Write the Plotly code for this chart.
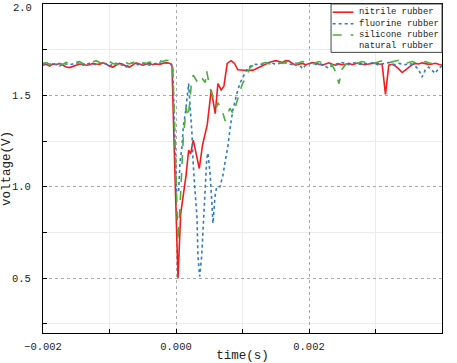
import plotly.graph_objects as go

# shared time grids (s)
t_pre = [-0.00200, -0.00195, -0.00190, -0.00185, -0.00180, -0.00175, -0.00170, -0.00165,
         -0.00160, -0.00155, -0.00150, -0.00145, -0.00140, -0.00135, -0.00130, -0.00125,
         -0.00120, -0.00115, -0.00110, -0.00105, -0.00100, -0.00095, -0.00090, -0.00085,
         -0.00080, -0.00075, -0.00070, -0.00065, -0.00060, -0.00055, -0.00050, -0.00045,
         -0.00040, -0.00035, -0.00030, -0.00025, -0.00020, -0.00015]
t_post = [0.00125, 0.00130, 0.00135, 0.00140, 0.00145, 0.00150, 0.00155, 0.00160,
          0.00165, 0.00170, 0.00175, 0.00180, 0.00185, 0.00190, 0.00195, 0.00200,
          0.00205, 0.00210, 0.00215, 0.00220, 0.00225, 0.00230, 0.00235, 0.00240,
          0.00245, 0.00250, 0.00255, 0.00260, 0.00265, 0.00270, 0.00275, 0.00280,
          0.00285, 0.00290, 0.00295, 0.00300, 0.00305, 0.00310, 0.00315, 0.00320,
          0.00325, 0.00330, 0.00335, 0.00340, 0.00345, 0.00350, 0.00355, 0.00360,
          0.00365, 0.00370, 0.00375, 0.00380, 0.00385, 0.00390, 0.00395, 0.00400]

# nitrile rubber
nitrile_pre = [1.665, 1.670, 1.660, 1.672, 1.668, 1.675, 1.665, 1.655, 1.652, 1.660,
               1.668, 1.672, 1.670, 1.665, 1.668, 1.675, 1.672, 1.670, 1.678, 1.672,
               1.660, 1.655, 1.665, 1.675, 1.670, 1.660, 1.655, 1.668, 1.678, 1.672,
               1.665, 1.670, 1.675, 1.668, 1.672, 1.670, 1.675, 1.680]
nitrile_t_dip = [-0.00009, -0.00006, -0.00003, 0.00003, 0.00007, 0.00011, 0.00015, 0.00019,
                 0.00022, 0.00026, 0.00030, 0.00035, 0.00040, 0.00047, 0.00053, 0.00059,
                 0.00063, 0.00068, 0.00072, 0.00077, 0.00083, 0.00088, 0.00093, 0.00100,
                 0.00108, 0.00116, 0.00120]
nitrile_dip = [1.675, 1.660, 1.250, 0.500, 0.850, 0.950, 1.060, 1.200,
               1.180, 1.255, 1.190, 1.100, 1.230, 1.340, 1.530, 1.400,
               1.565, 1.530, 1.550, 1.675, 1.690, 1.675, 1.640, 1.638,
               1.636, 1.638, 1.645]
nitrile_post = [1.655, 1.665, 1.675, 1.680, 1.685, 1.690, 1.685, 1.680, 1.690, 1.688,
                1.675, 1.665, 1.670, 1.675, 1.668, 1.672, 1.680, 1.676, 1.670, 1.665,
                1.672, 1.678, 1.670, 1.665, 1.672, 1.668, 1.670, 1.675, 1.668, 1.672,
                1.678, 1.670, 1.668, 1.672, 1.675, 1.678, 1.672, 1.670, 1.505, 1.665,
                1.670, 1.660, 1.645, 1.625, 1.638, 1.655, 1.668, 1.675, 1.672, 1.678,
                1.675, 1.670, 1.672, 1.676, 1.670, 1.665]

# fluorine rubber
fluorine_pre = [1.668, 1.675, 1.665, 1.672, 1.670, 1.660, 1.675, 1.670, 1.668, 1.672,
                1.676, 1.680, 1.665, 1.670, 1.675, 1.672, 1.668, 1.676, 1.680, 1.670,
                1.660, 1.672, 1.676, 1.670, 1.665, 1.655, 1.672, 1.678, 1.670, 1.668,
                1.676, 1.672, 1.665, 1.670, 1.676, 1.680, 1.672, 1.675]
fluorine_t_dip = [-0.00009, -0.00005, -0.00002, 0.00000, 0.00001, 0.00004, 0.00006, 0.00009,
                  0.00011, 0.00014, 0.00016, 0.00018, 0.00019, 0.00024, 0.000255, 0.000285,
                  0.000315, 0.00033, 0.000356, 0.000386, 0.000406, 0.000436, 0.000462, 0.00048,
                  0.00051, 0.000537, 0.000556, 0.000586, 0.000612, 0.00066, 0.00071, 0.000735,
                  0.00078, 0.00081, 0.000855, 0.000915, 0.00096, 0.00104, 0.00108, 0.00114,
                  0.00120]
fluorine_dip = [1.680, 1.660, 1.290, 1.110, 0.970, 0.980, 1.130, 1.220,
                1.330, 1.400, 1.470, 1.540, 1.565, 1.290, 1.150, 0.980,
                0.840, 0.620, 0.510, 0.620, 0.770, 0.970, 1.150, 1.185,
                1.080, 0.930, 0.800, 0.945, 1.000, 1.000, 1.070, 1.130,
                1.220, 1.310, 1.420, 1.510, 1.565, 1.625, 1.650, 1.665,
                1.670]
fluorine_post = [1.668, 1.672, 1.675, 1.680, 1.676, 1.670, 1.675, 1.680, 1.678, 1.672,
                 1.668, 1.675, 1.672, 1.645, 1.665, 1.672, 1.678, 1.670, 1.675, 1.668,
                 1.660, 1.648, 1.665, 1.672, 1.676, 1.680, 1.672, 1.668, 1.675, 1.680,
                 1.672, 1.668, 1.675, 1.672, 1.678, 1.670, 1.665, 1.672, 1.675, 1.680,
                 1.672, 1.668, 1.675, 1.672, 1.668, 1.675, 1.670, 1.660, 1.640, 1.600,
                 1.640, 1.655, 1.640, 1.620, 1.650, 1.660]

# silicone rubber
silicone_pre = [1.675, 1.680, 1.670, 1.678, 1.685, 1.675, 1.670, 1.680, 1.672, 1.676,
                1.680, 1.685, 1.675, 1.670, 1.678, 1.682, 1.690, 1.680, 1.672, 1.678,
                1.685, 1.675, 1.670, 1.680, 1.688, 1.678, 1.672, 1.680, 1.685, 1.690,
                1.678, 1.675, 1.682, 1.680, 1.686, 1.690, 1.685, 1.692]
silicone_t_dip = [-0.00009, -0.00005, -0.00002, 0.00000, 0.00002, 0.00003, 0.00006, 0.00009,
                  0.00011, 0.00014, 0.00015, 0.00018, 0.00021, 0.00023, 0.00026, 0.00031,
                  0.00036, 0.00044, 0.00046, 0.00051, 0.00056, 0.00061, 0.00063, 0.00069,
                  0.00074, 0.00081, 0.00086, 0.00093, 0.00100, 0.00107, 0.00111, 0.00116,
                  0.00120]
silicone_dip = [1.690, 1.670, 1.310, 1.110, 0.910, 0.700, 0.890, 1.150,
                1.270, 1.380, 1.435, 1.380, 1.470, 1.565, 1.610, 1.580,
                1.610, 1.570, 1.635, 1.540, 1.490, 1.435, 1.460, 1.420,
                1.360, 1.430, 1.400, 1.490, 1.565, 1.610, 1.650, 1.665,
                1.670]
silicone_post = [1.670, 1.675, 1.680, 1.672, 1.678, 1.685, 1.680, 1.675, 1.682, 1.688,
                 1.680, 1.672, 1.678, 1.685, 1.680, 1.675, 1.670, 1.678, 1.685, 1.680,
                 1.675, 1.672, 1.665, 1.630, 1.565, 1.645, 1.668, 1.675, 1.680, 1.672,
                 1.678, 1.685, 1.680, 1.675, 1.670, 1.678, 1.685, 1.690, 1.675, 1.680,
                 1.685, 1.690, 1.692, 1.680, 1.675, 1.680, 1.685, 1.678, 1.672, 1.680,
                 1.685, 1.678, 1.672, 1.670, 1.675, 1.668]

# natural rubber (almost invisible in the reference)
natural_t = [-0.0020, -0.0010, -0.0001, 0.0001, 0.0003, 0.0006, 0.0009, 0.0012, 0.0020, 0.0030, 0.0040]
natural_v = [1.670, 1.670, 1.670, 1.400, 1.300, 1.450, 1.600, 1.665, 1.670, 1.670, 1.670]

names = ["nitrile rubber", "fluorine rubber", "silicone rubber", "natural rubber"]
colors = ["#f21c1c", "#2f7bc4", "#4caf3a", "rgba(240,180,220,0.12)"]
dashes = ["solid", "dot", "dash", "dot"]

y_ticks = [0.5, 1.0, 1.5, 2.0]
y_minor = [0.25, 0.75, 1.25, 1.75]

FONT = "Liberation Mono"
TXT = "#222222"

fig = go.Figure()
series = [
    (t_pre + nitrile_t_dip + t_post, nitrile_pre + nitrile_dip + nitrile_post),
    (t_pre + fluorine_t_dip + t_post, fluorine_pre + fluorine_dip + fluorine_post),
    (t_pre + silicone_t_dip + t_post, silicone_pre + silicone_dip + silicone_post),
    (natural_t, natural_v),
]
for (xs, ys), nm, c, d in zip(series, names, colors, dashes):
    fig.add_trace(go.Scatter(x=xs, y=ys, mode="lines", name=nm,
                             line=dict(color=c, width=1.6 if nm != "natural rubber" else 1, dash=d)))

# legend drawn as a box with sample lines + text (paper coordinates of the plot area)
leg_x0, leg_x1, leg_y0, leg_y1 = 0.722, 1.0, 0.853, 1.0
row_y = [0.975, 0.940, 0.906, 0.871]
shapes = [dict(type="rect", xref="paper", yref="paper", x0=leg_x0, x1=leg_x1, y0=leg_y0, y1=leg_y1,
               line=dict(color="#444", width=1), fillcolor="white", layer="above")]
annotations = []
for nm, c, d, ry in zip(names, colors, dashes, row_y):
    shapes.append(dict(type="line", xref="paper", yref="paper", x0=0.726, x1=0.778, y0=ry, y1=ry,
                       line=dict(color=c, width=1.6, dash=d), layer="above"))
    annotations.append(dict(xref="paper", yref="paper", x=0.788, y=ry, xanchor="left", yanchor="middle",
                            text=nm, showarrow=False, font=dict(family=FONT, size=8.9, color=TXT)))

# top y tick label (plotly drops it because it touches the page edge)
annotations.append(dict(xref="paper", yref="y", x=0, y=y_ticks[-1], xanchor="right", yanchor="top",
                        xshift=-9, yshift=4, text="%.1f" % y_ticks[-1], showarrow=False,
                        font=dict(family=FONT, size=10.5, color=TXT)))

fig.update_layout(
    width=457, height=363,
    margin=dict(l=43, r=15, t=4, b=30, autoexpand=False),
    paper_bgcolor="white", plot_bgcolor="white",
    font=dict(family=FONT, size=11, color=TXT),
    showlegend=False,
    shapes=shapes, annotations=annotations,
)

axis_common = dict(
    showline=True, linecolor="black", linewidth=1, mirror=True,
    ticks="inside", ticklen=4, tickcolor="black",
    showgrid=True, gridcolor="#aaaaaa", griddash="dot", gridwidth=1,
    zeroline=False, automargin=False,
    tickfont=dict(family=FONT, size=10.5, color=TXT),
)

fig.update_xaxes(range=[-0.002, 0.004], dtick=0.002, tick0=0, tickformat=".3f",
                 ticklabelstandoff=3,
                 minor=dict(dtick=0.001, ticks="inside", ticklen=4, tickcolor="black",
                            showgrid=True, gridcolor="#ececec", griddash="solid"),
                 title=dict(text="time(s)", font=dict(family=FONT, size=12.5, color=TXT), standoff=2),
                 **axis_common)
fig.update_yaxes(range=[0.2, 2.0], tickmode="array", tickvals=y_ticks,
                 ticktext=["%.1f" % v for v in y_ticks],
                 ticklabelstandoff=9,
                 minor=dict(tickmode="array", tickvals=y_minor,
                            ticks="inside", ticklen=4, tickcolor="black",
                            showgrid=True, gridcolor="#ececec", griddash="solid"),
                 title=dict(text="voltage(V)", font=dict(family=FONT, size=12.5, color=TXT), standoff=4),
                 **axis_common)

fig.write_html("out.html", config={"displayModeBar": False},
               post_script="document.body.style.margin='0px';")
